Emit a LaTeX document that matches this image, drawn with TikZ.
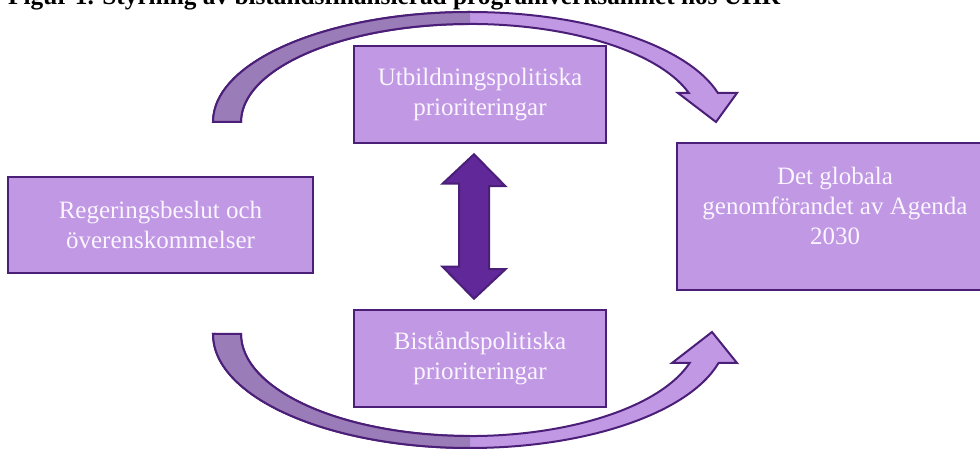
\documentclass[tikz,border=0pt]{standalone}
\usepackage{fontspec}
\setmainfont{Liberation Serif}
\usepackage{tikz}
\definecolor{Lilac}{HTML}{C098E4}
\definecolor{Plum}{HTML}{4B1E78}
\definecolor{Grape}{HTML}{602898}
\definecolor{Dusk}{HTML}{9A7CB8}
\definecolor{Paper}{HTML}{FAF5FF}

\begin{document}
\begin{tikzpicture}[x=1pt,y=1pt,
  box/.style={draw=Plum,line width=2.5pt,fill=Lilac,text=Paper,align=center,
    font=\fontsize{25}{30}\selectfont,inner sep=0pt},
  txt/.style={text=Paper,align=center,font=\fontsize{25}{30}\selectfont},
  band/.style={draw=Plum,line width=2pt,fill=Lilac},
  rim/.style={draw=Plum,line width=2pt},
  twoway/.style={draw=Plum,line width=2pt,fill=Grape}]
\useasboundingbox (0,0) rectangle (980,452);
\clip (0,0) rectangle (980,452);

\node[anchor=base west,inner sep=0pt,font=\fontsize{25.3}{30}\selectfont\bfseries] (title) at (8,447)
  {Figur 1. Styrning av biståndsfinansierad programverksamhet hos UHR};

% upper curved arrow
\draw[band] (213,330) arc[start angle=180,end angle=15.3,x radius=257,y radius=110]
  -- (737,359) -- (716,330) -- (678,359) -- (688.8,359)
  arc[start angle=17.2,end angle=180,x radius=229,y radius=98] -- cycle;
\fill[Dusk] (213,330) arc[start angle=180,end angle=90,x radius=257,y radius=110]
  -- (470,428) arc[start angle=90,end angle=180,x radius=229,y radius=98] -- cycle;
\draw[rim] (470,440) arc[start angle=90,end angle=180,x radius=257,y radius=110]
  -- (241,330) arc[start angle=180,end angle=90,x radius=229,y radius=98];

% lower curved arrow
\draw[band] (213,118) arc[start angle=180,end angle=345.3,x radius=257,y radius=114]
  -- (737,89) -- (712,120) -- (672,89) -- (689.6,89)
  arc[start angle=343.5,end angle=180,x radius=229,y radius=102] -- cycle;
\fill[Dusk] (213,118) arc[start angle=180,end angle=270,x radius=257,y radius=114]
  -- (470,16) arc[start angle=270,end angle=180,x radius=229,y radius=102] -- cycle;
\draw[rim] (470,4) arc[start angle=270,end angle=180,x radius=257,y radius=114]
  -- (241,118) arc[start angle=180,end angle=270,x radius=229,y radius=102];

\node[box,minimum width=305pt,minimum height=96pt] (regering) at (160.5,227)
  {Regeringsbeslut och\\överenskommelser};
\node[box,minimum width=252pt,minimum height=97pt] (utbildning) at (480,357.5)
  {Utbildningspolitiska\\prioriteringar};
\node[box,minimum width=252pt,minimum height=97pt] (bistand) at (480,93.5)
  {Biståndspolitiska\\prioriteringar};
\node[box,minimum width=316pt,minimum height=147pt] (agenda) at (835,235.5) {};
\node[txt] (agendatext) at ([yshift=11pt]agenda.center)
  {Det globala\\genomförandet av Agenda\\2030};

% double arrow
\coordinate (up) at ([xshift=-6pt,yshift=-10pt]utbildning.south);
\coordinate (dn) at ([xshift=-6pt,yshift=10pt]bistand.north);
\draw[twoway] (up) -- ++(31.5,-32) -- ++(-16.5,0) -- ++(0,-83) -- ++(16.5,0)
  -- (dn) -- ++(-31.5,32) -- ++(16.5,0) -- ++(0,83) -- ++(-16.5,0) -- cycle;

\end{tikzpicture}
\end{document}
